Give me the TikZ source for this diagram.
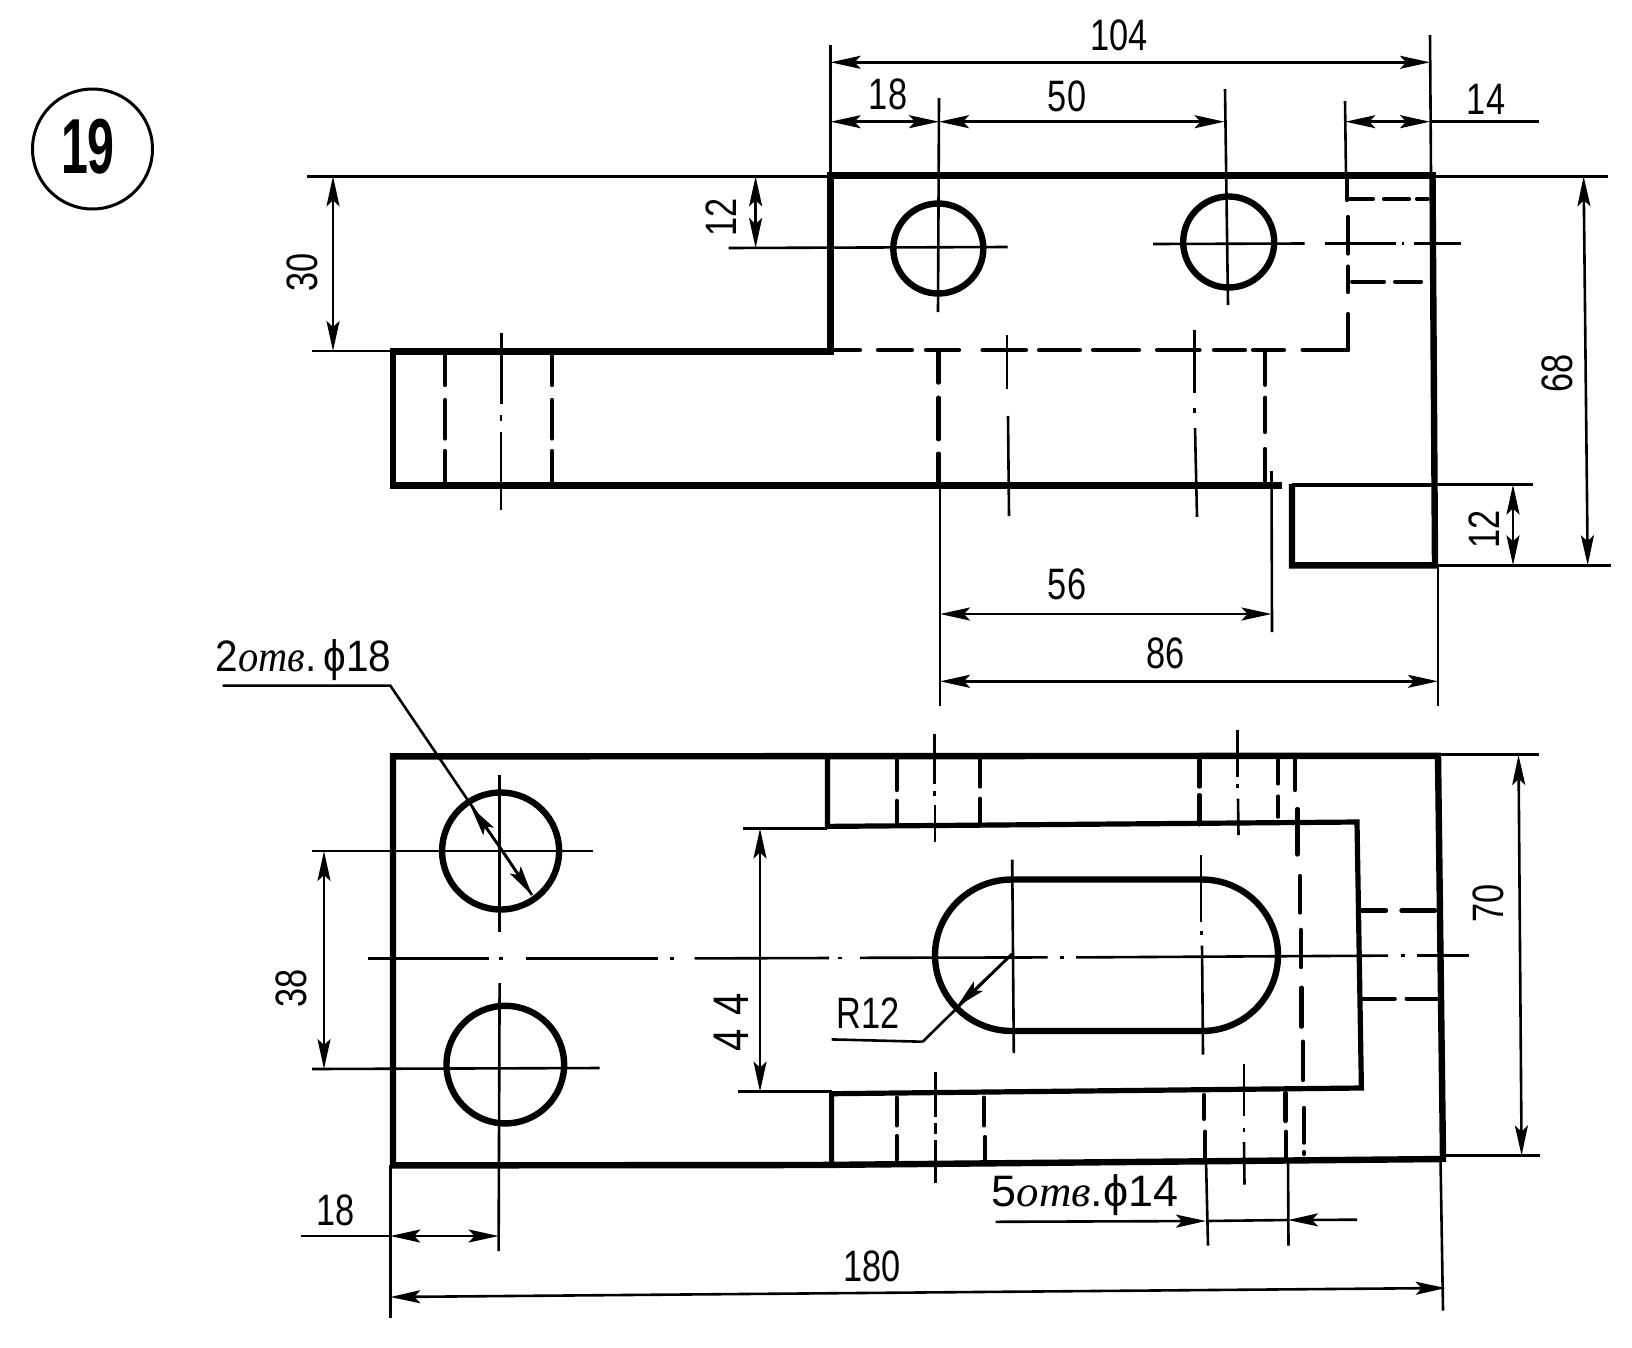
\documentclass[tikz,border=0pt]{standalone}
\usepackage{fontspec}
\usepackage{graphicx}
\setmainfont{Liberation Sans}
\newfontfamily\curs{Liberation Serif}
\usetikzlibrary{arrows.meta}
\tikzset{
  thk/.style={line width=6.4pt,line cap=rect,line join=miter},
  mid/.style={line width=5.2pt,line cap=rect,line join=miter},
  dsh/.style={line width=4.2pt,line cap=round},
  thn/.style={line width=2.6pt},
  dim/.style={line width=2.6pt,{Stealth[length=30pt,width=13pt,inset=6pt]}-{Stealth[length=30pt,width=13pt,inset=6pt]}},
  tipend/.style={line width=2.6pt,-{Stealth[length=30pt,width=13pt,inset=6pt]}},
  hole/.style={line width=6.4pt},
  lbl/.style={inner sep=0pt,font=\fontsize{44}{44}\selectfont},
  lblb/.style={inner sep=0pt,font=\fontsize{78}{78}\selectfont\bfseries},
}
\newcommand{\nar}[2][0.78]{\scalebox{#1}[1]{#2}}
\newcommand{\nt}[1]{{\curs\itshape #1}}
\begin{document}
\begin{tikzpicture}[x=1pt,y=-1pt]
\useasboundingbox[fill=white] (0,0) rectangle (1632,1347);

% number badge
\draw[line width=3pt] (92.5,149) circle (60);
\node[lblb] (num) at (88,147) {\nar[0.62]{19}};

% ===== upper view: thin lines =====
\draw[thn] (307,176.3)--(832,176.3);
\draw[thn] (1433,176.3)--(1608,176.3);
\draw[thn] (312,351)--(391,351);
\draw[thn] (1292,484.5)--(1532.6,484.5);
\draw[thn] (1435,565.3)--(1611,565.3);
% extension lines
\draw[thn] (830.6,45)--(830.6,175);
\draw[thn] (1430,35)--(1431,175);
\draw[thn] (1345,101)--(1346,175);
\draw[thn] (939,98)--(938,312);
\draw[thn] (1225,89)--(1228,305);
\draw[thn] (728.6,248)--(1007.5,247);
\draw[thn] (1153,244)--(1304.5,243.5);
\draw[thn] (1325,243.3)--(1396,243.3);
\draw[thn] (1401.5,243.3)--(1404,243.3);
\draw[thn] (1413.5,243.3)--(1461,243.3);
\draw[thn] (1007,335)--(1007,389);
\draw[thn] (1008,416)--(1009,516);
\draw[thn] (1194.5,330)--(1194.5,393);
\draw[thn] (1194.5,408)--(1194.5,413);
\draw[thn] (1195,428)--(1197,517);
\draw[thn] (940,485)--(940,706);
\draw[thn] (1271.5,471)--(1272,632);
\draw[thn] (1438,567)--(1438,706);
\draw[thn] (501.5,333)--(501.5,404);
\draw[thn] (501,415)--(501,421);
\draw[thn] (501,432)--(501,510);

% upper view: thick outline
\draw[thk] (393,351.5)--(830.6,351.5)--(830.6,175.5)--(1432.5,175.5);
\draw[thk] (1432.5,175.5)--(1435,565.3)--(1292,565.3)--(1292,487);
\draw[thk] (393,351.5)--(393,485.4)--(1279,485.4);
\draw[line width=3.6pt] (1292,485)--(1433,485);

% upper view: hidden lines
\foreach \a/\b in {830/860,878/912,926/959,982.5/1026,1039/1080,1093/1139,1157/1199.5,1214/1245,1253/1284,1302.6/1348}
  \draw[dsh] (\a,350)--(\b,350);
\foreach \a/\b in {350/314,292/266.5,253.6/217}
  \draw[dsh] (1348,\a)--(1348,\b);
\draw[dsh] (1347,200)--(1347,177);
\foreach \a/\b in {1349/1373,1384/1409,1417/1427.5}
  \draw[dsh] (\a,199)--(\b,199);
\foreach \a/\b in {1352/1384,1395/1421}
  \draw[dsh] (\a,281.6)--(\b,281.6);
\foreach \a/\b in {350/382.6,397.7/439.4,453.6/485.8}
  \draw[dsh] (938.5,\a)--(938.5,\b);
\foreach \a/\b in {350/384.8,397.7/432,449/485.8}
  \draw[dsh] (1265,\a)--(1265,\b);
\foreach \a/\b in {352/385,400/438.5,451/484}{
  \draw[dsh] (445,\a)--(445,\b);
  \draw[dsh] (552,\a)--(552,\b);
}

% upper view: holes
\draw[hole] (938.3,248.5) circle (45);
\draw[hole] (1228.7,242) circle (45.5);

% upper view: dimensions
\draw[dim] (830.6,62.3)--(1430,62.3);
\draw[dim] (830.6,121.7)--(939,121.7);
\draw[dim] (939,121.7)--(1224.5,121.7);
\draw[dim] (1345.3,121.7)--(1430,121.7);
\draw[thn] (1430,121.7)--(1539.4,121.7);
\draw[dim] (333,176.3)--(333,351);
\draw[dim] (755.6,176.3)--(755.6,248);
\draw[dim] (1583.6,176.3)--(1587.7,565.3);
\draw[dim] (1513,484.5)--(1513,565.3);
\draw[dim] (940,614)--(1271.5,614);
\draw[dim] (940,681.3)--(1438,681.3);

\node[lbl] (d104) at (1119,35) {\nar{104}};
\node[lbl] (d18a) at (888,94) {\nar{18}};
\node[lbl] (d50) at (1067,96) {\nar{50}};
\node[lbl] (d14) at (1486,99) {\nar{14}};
\node[lbl,rotate=90] (d30) at (302,272) {\nar{30}};
\node[lbl,rotate=90] (d12a) at (720.8,217) {\nar{12}};
\node[lbl,rotate=90] (d68) at (1557.6,373) {\nar{68}};
\node[lbl,rotate=90] (d12b) at (1483.7,529.7) {\nar{12}};
\node[lbl] (d56) at (1067,584) {\nar{56}};
\node[lbl] (d86) at (1165.7,653.5) {\nar{86}};

% ===== lower view: thin lines =====
\draw[thn] (1438,754.7)--(1539.4,754.7);
\draw[thn] (1443,1155.5)--(1540,1155.5);
\draw[thn] (743,828.5)--(827,828.5);
\draw[thn] (738,1091.6)--(831.6,1091.6);
\draw[thn] (499.6,775)--(499.6,931.5);
\draw[thn] (499.6,983)--(498.6,1251);
\draw[thn] (312,850.8)--(593,850.8);
\draw[thn] (312,1069)--(599.5,1068);
% main centre line
\draw[thn] (368.4,958.6)--(489,958.6);
\draw[thn] (498.5,958.6)--(502.5,958.6);
\draw[thn] (525.6,958.6)--(658,958.6);
\draw[thn] (670,958.6)--(674,958.6);
\draw[thn] (694.7,958.4)--(829,958);
\draw[thn] (837.5,958)--(841.5,958);
\draw[thn] (860,957.8)--(1047.6,957.4);
\draw[thn] (1059.6,957.4)--(1063.6,957.4);
\draw[thn] (1076,957.4)--(1388,955.6);
\draw[thn] (1401,955.6)--(1405,955.6);
\draw[thn] (1417,955.6)--(1469,955.6);
% slot centre lines
\draw[thn] (1012.2,859.7)--(1013.8,1053);
\draw[thn] (1201,855.4)--(1201,922);
\draw[thn] (1201.5,931)--(1201.5,935);
\draw[thn] (1202,945.7)--(1203,1054.5);
% hole centres in bands
\draw[thn] (934.6,734)--(934.6,783.6);
\draw[thn] (934.6,791)--(934.6,796);
\draw[thn] (935,805)--(935,842);
\draw[thn] (1237.5,730)--(1237.5,777);
\draw[thn] (1237.5,784)--(1237.5,788);
\draw[thn] (1238,798.6)--(1238.5,835);
\draw[thn] (935.7,1071.7)--(935.7,1116.6);
\draw[thn] (935.7,1123)--(935.7,1134);
\draw[thn] (935.7,1140)--(935.7,1182.6);
\draw[thn] (1243.8,1064)--(1243.8,1116);
\draw[thn] (1244,1128)--(1244,1132);
\draw[thn] (1244,1142)--(1244.5,1184.6);
% extension lines below
\draw[thn] (1206,1160)--(1208,1245.6);
\draw[thn] (1288,1160)--(1288.5,1245.6);
\draw[thn] (390.3,1165)--(390.3,1318);
\draw[thn] (1440.5,1159)--(1443,1310.6);

% lower view: outline
\draw[thk] (393,756.4)--(393,1165.4)--(816,1165)--(1443,1159)--(1438,755.8)--cycle;
\draw[mid] (827.4,756)--(827.4,826.4)--(1357,822)--(1361.4,1088)--(831.6,1093.7)--(831.6,1161);

% lower view: holes and slot
\draw[hole] (500.6,851) circle (58.5);
\draw[hole] (505.3,1064.6) circle (58.8);
\draw[line width=6.4pt] (1012,879.5)--(1202,879.5)
  .. controls (1244,879.5) and (1278,913.3) .. (1278,955.2)
  .. controls (1278,997.1) and (1244,1031) .. (1202,1031)
  --(1012,1031)
  .. controls (969.5,1031) and (935,997.1) .. (935,955.2)
  .. controls (935,913.3) and (969.5,879.5) .. (1012,879.5)--cycle;

% lower view: hidden lines
\foreach \x/\a/\b in {896.7/760/790,896.7/800.8/824.4,980/760/786.6,980/798.7/824.4,
  1199.5/760/786.6,1199.5/795/824.4,1278/760/783.6,1278/796.5/816.7,
  896.7/1097.6/1125.4,896.7/1136/1159.7,984/1097.6/1125.4,985/1137/1159.7,
  1203.7/1095/1118.9,1205/1131.7/1160,1285.4/1093/1121,1286/1131.7/1159.6,
  1294.8/758/790,1297.4/809/854.5,1300/876/912.6,1301/929.8/967,1301.5/987.8/1026.7,
  1303/1041.6/1080,1304/1108/1142.6,1304/1152/1154}
  \draw[dsh] (\x,\a)--(\x,\b);
\foreach \a/\b in {1361.4/1386,1401.4/1435}
  \draw[dsh] (\a,910.5)--(\b,910.5);
\foreach \a/\b in {1362.4/1394.7,1406.6/1438}
  \draw[dsh] (\a,998.6)--(\b,998.6);

% lower view: dimensions
\draw[dim] (324,851)--(324,1069);
\draw[dim] (760,828.5)--(760,1091.6);
\draw[dim] (1518.5,755)--(1521.6,1155.5);
\draw[dim] (390.3,1236)--(498.6,1236);
\draw[thn] (300.8,1236)--(390.3,1236);
\draw[dim] (390.3,1297)--(1445.7,1288);

% leaders
\draw[thn] (222.7,685.6)--(390.3,685.6)--(532,895);
\coordinate (ha) at (471,807);
\coordinate (hb) at (532,895);
\draw[tipend] (500.6,848)--(ha);
\draw[tipend] (500.6,848)--(hb);
\draw[thn] (831.6,1039.4)--(922.7,1041.7);
\draw[thn] (922.7,1041.7)--(1012,954);
\draw[tipend] (1012,954)--(956.5,1007);
\draw[tipend] (995.5,1221.8)--(1206,1221);
\draw[thn] (1206,1221)--(1288,1220);
\draw[tipend] (1357,1219.7)--(1288,1220);

% lower view: labels
\node[lbl] (d2h) at (303.5,660) {\scalebox{0.92}[1]{2\nt{отв}.\,ϕ18}};
\node[lbl] (d5h) at (1085,1195) {\scalebox{1.02}[1]{5\nt{отв}.ϕ14}};
\node[lbl,rotate=90] (d38) at (291.4,988.6) {\nar{38}};
\node[lbl,rotate=90,font=\fontsize{50}{50}\selectfont] (d44) at (731,1022.5) {\nar[0.8]{4\,\,4}};
\node[lbl,rotate=90] (d70) at (1488,903.6) {\nar{70}};
\node[lbl] (dr) at (868,1013.6) {\nar{R12}};
\node[lbl] (d18b) at (335.7,1210.5) {\nar{18}};
\node[lbl] (d180) at (872,1266.4) {\nar{180}};
\end{tikzpicture}
\end{document}
